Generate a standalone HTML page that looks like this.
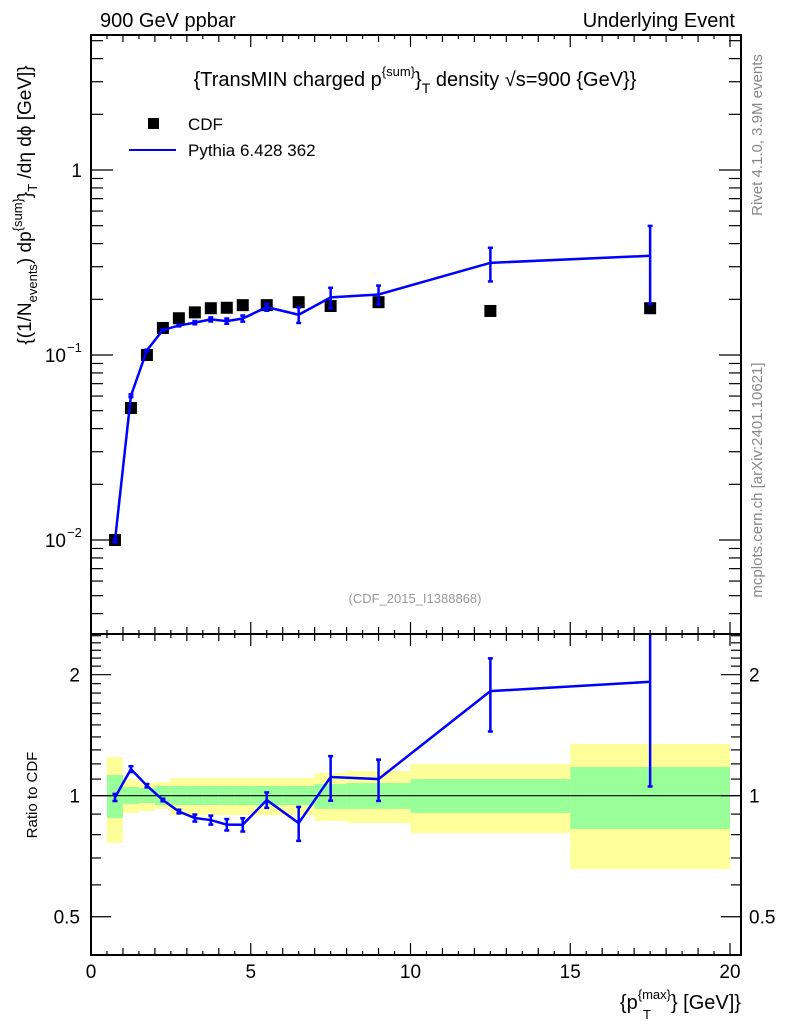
<!DOCTYPE html>
<html><head><meta charset="utf-8"><style>
body{margin:0;background:#fff;}
svg{display:block;font-family:"Liberation Sans",sans-serif;}
</style></head><body>
<svg id="c" width="786" height="1024" viewBox="0 0 786 1024">
<g id="bands"></g><g id="marks"></g><g id="axes"></g>
<text x="100" y="27" font-size="20">900 GeV ppbar</text>
<text x="735" y="27" font-size="20" text-anchor="end">Underlying Event</text>
<text x="415" y="86" font-size="20" text-anchor="middle">{TransMIN charged p<tspan dy="-10" font-size="13">{sum}</tspan><tspan dy="10" font-size="20">}</tspan><tspan dy="7" font-size="14">T</tspan><tspan dy="-7" font-size="20"> density √s=900 {GeV}}</tspan></text>
<rect x="148" y="118" width="11" height="11" fill="#000"/>
<text x="188" y="130" font-size="17">CDF</text>
<line x1="129" y1="150" x2="176" y2="150" stroke="#00f" stroke-width="2"/>
<text x="188" y="156" font-size="17">Pythia 6.428 362</text>
<text x="415" y="603" font-size="13" fill="#999" text-anchor="middle">(CDF_2015_I1388868)</text>
<text transform="translate(31,205) rotate(-90)" font-size="19" text-anchor="middle">{(1/N<tspan font-size="13" dy="6">events</tspan><tspan dy="-6">) dp</tspan><tspan font-size="13" dy="-9">{sum}</tspan><tspan dy="9">}</tspan><tspan font-size="13" dy="6">T</tspan><tspan dy="-6"> /dη  dϕ [GeV]}</tspan></text>
<text transform="translate(37,795) rotate(-90)" font-size="15" text-anchor="middle">Ratio to CDF</text>
<text x="741" y="1009" font-size="20" text-anchor="end">{p<tspan font-size="13" dy="-10">{max}</tspan><tspan font-size="13" dx="-28" dy="20">T</tspan><tspan dx="20" dy="-10">} [GeV]}</tspan></text>
<text transform="translate(762,135) rotate(-90)" font-size="15" fill="#888" text-anchor="middle">Rivet 4.1.0,  3.9M events</text>
<text transform="translate(762,480) rotate(-90)" font-size="15" fill="#888" text-anchor="middle">mcplots.cern.ch [arXiv:2401.10621]</text>
</svg>
<script>
const xCenters=[0.75,1.25,1.75,2.25,2.75,3.25,3.75,4.25,4.75,5.5,6.5,7.5,9,12.5,17.5];
const cdfValues=[0.0100,0.0517,0.100,0.140,0.158,0.170,0.179,0.180,0.186,0.186,0.193,0.184,0.193,0.173,0.179];
const pythiaValues=[0.0099,0.0602,0.1059,0.1366,0.1443,0.1496,0.1557,0.1525,0.1575,0.1815,0.1650,0.2048,0.2123,0.3149,0.3437];
const pythiaErrors=[0.0002,0.001,0.001,0.001,0.0015,0.003,0.004,0.005,0.006,0.008,0.016,0.026,0.025,0.065,0.155];
const binEdges=[0.5,1,1.5,2,2.5,3,3.5,4,4.5,5,6,7,8,10,15,20];
const bandTotalUp=[1.248,1.100,1.075,1.082,1.107,1.107,1.107,1.107,1.107,1.107,1.107,1.139,1.152,1.199,1.345];
const bandTotalDn=[0.763,0.906,0.916,0.927,0.895,0.895,0.895,0.895,0.895,0.895,0.895,0.865,0.855,0.807,0.657];
const bandStatUp=[1.126,1.051,1.045,1.057,1.057,1.057,1.057,1.057,1.057,1.057,1.057,1.069,1.075,1.100,1.179];
const bandStatDn=[0.880,0.954,0.959,0.948,0.948,0.948,0.948,0.948,0.948,0.948,0.948,0.927,0.927,0.906,0.826];
const ratioTickLabels=["0.5","1","2"];
const xTickLabels=["0","5","10","15","20"];

const NS="http://www.w3.org/2000/svg";
const L=91,R=741,T=35,MB=634,RB=955;
const X=v=>91+v*31.95;
const Y=v=>170-Math.log10(v)*185;
const YR=v=>795.7-Math.log10(v)*402;
function mk(tag,attrs,parent){const e=document.createElementNS(NS,tag);for(const k in attrs)e.setAttribute(k,attrs[k]);document.getElementById(parent).appendChild(e);return e;}

for(let i=0;i<bandTotalUp.length;i++){
  const x1=X(binEdges[i]),x2=X(binEdges[i+1]);
  let e=mk('rect',{x:x1,y:YR(bandTotalUp[i]),width:x2-x1,height:YR(bandTotalDn[i])-YR(bandTotalUp[i]),fill:'#ffff99'},'bands');
  
  
  e=mk('rect',{x:x1,y:YR(bandStatUp[i]),width:x2-x1,height:YR(bandStatDn[i])-YR(bandStatUp[i]),fill:'#99ff99'},'bands');
  
  
}
let ln=mk('line',{x1:L,x2:R,y1:YR(1),y2:YR(1),stroke:'#000','stroke-width':1.2},'bands');



xCenters.forEach((x,i)=>{
  const e=mk('rect',{x:X(x)-6,y:Y(cdfValues[i])-6,width:12,height:12,fill:'#000'},'marks');
  
  
});
let pts=xCenters.map((x,i)=>X(x)+','+Y(pythiaValues[i])).join(' ');
let pl=mk('polyline',{points:pts,fill:'none',stroke:'#00f','stroke-width':2.5},'marks');


function errbar(x,y1,y2,name,clipTop){
  const g=mk('g',{stroke:'#00f','stroke-width':2.5},'marks');
  
  
  const a=Math.max(y1,clipTop);
  const l=document.createElementNS(NS,'line');l.setAttribute('x1',x);l.setAttribute('x2',x);l.setAttribute('y1',a);l.setAttribute('y2',y2);g.appendChild(l);
  [a,y2].forEach(yy=>{if(yy===clipTop)return;const c=document.createElementNS(NS,'line');c.setAttribute('x1',x-2.5);c.setAttribute('x2',x+2.5);c.setAttribute('y1',yy);c.setAttribute('y2',yy);g.appendChild(c);});
}
xCenters.forEach((x,i)=>errbar(X(x),Y(pythiaValues[i]+pythiaErrors[i]),Y(pythiaValues[i]-pythiaErrors[i]),'pythia-error-bar',T));
pts=xCenters.map((x,i)=>X(x)+','+YR(pythiaValues[i]/cdfValues[i])).join(' ');
pl=mk('polyline',{points:pts,fill:'none',stroke:'#00f','stroke-width':2.5},'marks');


xCenters.forEach((x,i)=>errbar(X(x),YR((pythiaValues[i]+pythiaErrors[i])/cdfValues[i]),YR((pythiaValues[i]-pythiaErrors[i])/cdfValues[i]),'ratio-error-bar',MB));

[[T,MB],[MB,RB]].forEach(([a,b],k)=>{
  const e=mk('rect',{x:L,y:a,width:R-L,height:b-a,fill:'none',stroke:'#000','stroke-width':2},'axes');
  
  
});
function tick(x1,y1,x2,y2){mk('line',{x1,y1,x2,y2,stroke:'#000','stroke-width':1.2},'axes');}
for(let v=0;v<=20.3;v+=0.5){
  const major=Math.abs(v%5)<1e-6, len=major?12:(Math.abs(v%1)<1e-6?7:4);
  const x=X(v);
  tick(x,T,x,T+len);tick(x,MB,x,MB-len);tick(x,MB,x,MB+len);tick(x,RB,x,RB-len);
}
xTickLabels.forEach((s,i)=>{const t=mk('text',{x:X(i*5),y:978,'font-size':19,'text-anchor':'middle'},'axes');t.textContent=s;
  
  });
for(let d=-3;d<=0;d++){for(let m=1;m<10;m++){const v=m*Math.pow(10,d);const y=Y(v);if(y<T||y>MB)continue;const len=m===1?22:12;tick(L,y,L+len,y);tick(R,y,R-len,y);}}
[-2,-1].forEach(p=>{
  const t=mk('text',{x:66,y:Y(Math.pow(10,p))+7,'font-size':19,'text-anchor':'end'},'axes');
  t.textContent='10';
  
  
  const s=mk('text',{x:67,y:Y(Math.pow(10,p))-3,'font-size':13},'axes');s.textContent='−'+(-p);
  
  
});
let t1=mk('text',{x:82,y:Y(1)+7,'font-size':19,'text-anchor':'end'},'axes');t1.textContent='1';


const rt=[0.4,0.5,0.6,0.7,0.8,0.9,1,1.1,1.2,1.3,1.4,1.5,1.6,1.7,1.8,1.9,2,2.1,2.2,2.3,2.4,2.5];
rt.forEach(v=>{const y=YR(v);if(y<MB||y>RB)return;const maj=[0.5,1,2].some(q=>Math.abs(q-v)<1e-6);const len=maj?20:10;tick(L,y,L+len,y);tick(R,y,R-len,y);});
ratioTickLabels.forEach(s=>{const v=parseFloat(s);
  let t=mk('text',{x:80,y:YR(v)+7,'font-size':19,'text-anchor':'end'},'axes');t.textContent=s;
  
  
  t=mk('text',{x:749,y:YR(v)+7,'font-size':19},'axes');t.textContent=s;
  
  
});
</script>
</body></html>
